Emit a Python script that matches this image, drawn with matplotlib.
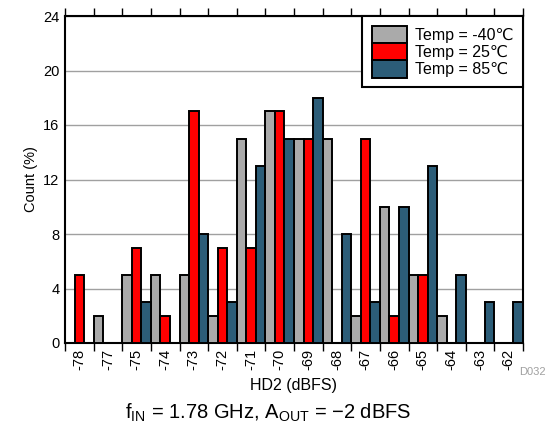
import matplotlib
matplotlib.use("Agg")
import matplotlib.pyplot as plt
import numpy as np

plt.rcParams['font.family'] = ['Liberation Sans', 'DejaVu Sans']

categories = ['-78', '-77', '-75', '-74', '-73', '-72', '-71', '-70',
              '-69', '-68', '-67', '-66', '-65', '-64', '-63', '-62']
temp_m40 = [0, 2, 5, 5, 5, 2, 15, 17, 15, 15, 2, 10, 5, 2, 0, 0]
temp_25 = [5, 0, 7, 2, 17, 7, 7, 17, 15, 0, 15, 2, 5, 0, 0, 0]
temp_85 = [0, 0, 3, 0, 8, 3, 13, 15, 18, 8, 3, 10, 13, 5, 3, 3]
series_labels = ['Temp = -40\u2103', 'Temp = 25\u2103', 'Temp = 85\u2103']
colors = ['#AAAAAA', '#FF0000', '#2C5D78']

fig = plt.figure(figsize=(5.47, 4.34), dpi=100)
ax = fig.add_axes([65/547, 1 - 343/434, (523-65)/547, (343-16)/434])

x = np.arange(len(categories))
w = 1/3
for k, (vals, lab, c) in enumerate(zip([temp_m40, temp_25, temp_85], series_labels, colors)):
    ax.bar(x + (k - 1) * w, vals, width=w, color=c, edgecolor='black', linewidth=1.4,
           label=lab, zorder=3)

ax.set_xlim(-0.5, len(categories) - 0.5)
ax.set_ylim(0, 24)
ax.set_yticks(np.arange(0, 25, 4))
ax.yaxis.grid(True, color='#A0A0A0', linewidth=1, zorder=0)
ax.set_axisbelow(True)

# category labels at centers, ticks at boundaries
ax.set_xticks(x)
ax.set_xticklabels(categories, rotation=90, fontsize=10.5)
ax.tick_params(axis='x', which='major', length=0, pad=4)
ax.set_xticks(np.arange(-0.5, len(categories)), minor=True)
ax.tick_params(axis='x', which='minor', length=6, width=1, direction='out',
               top=True, bottom=True)
ax.tick_params(axis='y', length=0, labelsize=10.5, pad=4)

for s in ax.spines.values():
    s.set_linewidth(1.5)

ax.set_ylabel('Count (%)', fontsize=10.5)
ax.set_xlabel('HD2 (dBFS)', fontsize=11.5, labelpad=6)

leg = ax.legend(loc='upper right', fontsize=11.5, frameon=True, fancybox=False,
                edgecolor='black', framealpha=1, borderpad=0.6, labelspacing=0.0,
                handlelength=2.2, handleheight=1.3, handletextpad=0.5,
                borderaxespad=0)
leg.get_frame().set_linewidth(1.5)

fig.text(546/547, 1 - 372/434, 'D032', fontsize=8, color='#A0A0A0', ha='right', va='center')
fig.text(268/547, 1 - 413/434, r'f$_{\mathregular{IN}}$ = 1.78 GHz, A$_{\mathregular{OUT}}$ = $\mathregular{-}$2 dBFS',
         fontsize=14.5, ha='center', va='center')

fig.savefig('out.png', dpi=100)
